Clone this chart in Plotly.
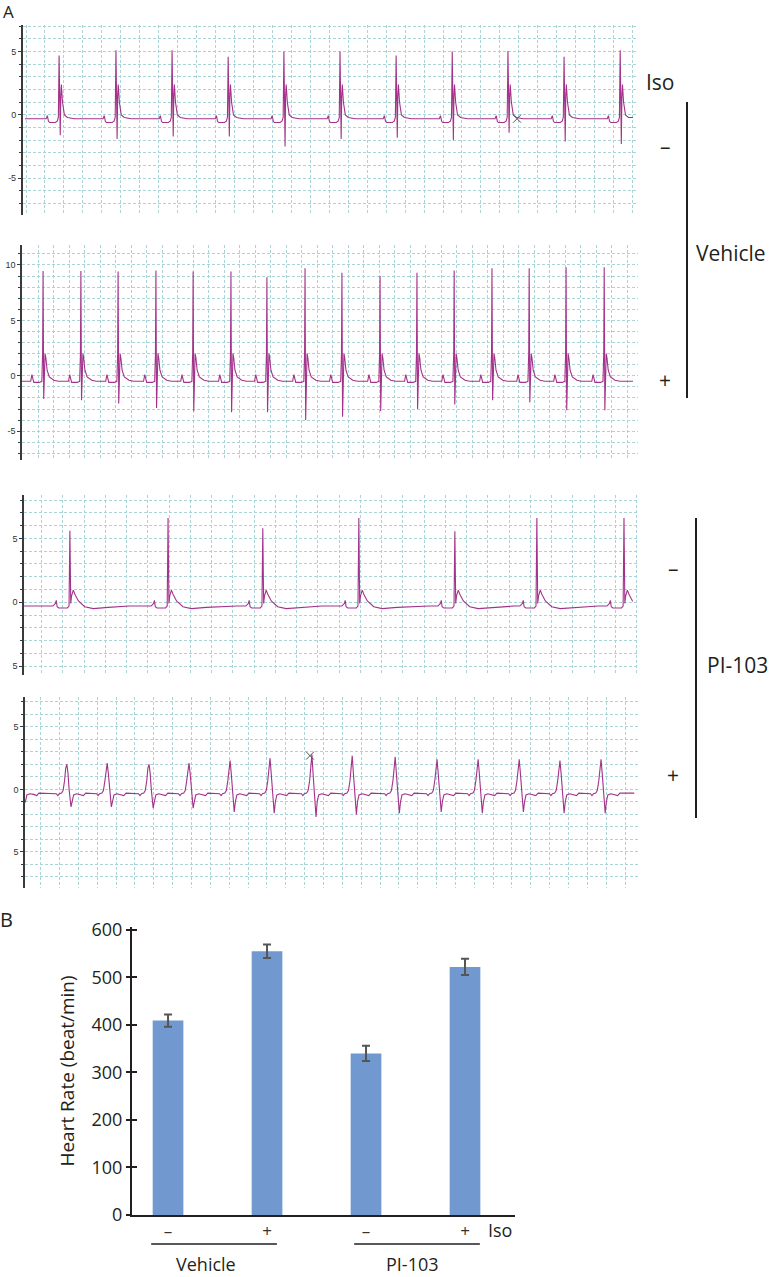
import plotly.graph_objects as go

# ---------------- Data ----------------
# ECG panels: beat times (ms), R-peak and S-trough amplitudes (mV)
veh_minus_beats = [96, 246, 394, 542, 689, 837, 985, 1133, 1280, 1428, 1576]
veh_minus_R = [4.7, 5.1, 5.1, 4.6, 5.0, 5.0, 4.7, 5.0, 5.05, 4.6, 5.1]
veh_minus_S = [-1.6, -1.9, -1.7, -1.7, -2.5, -1.9, -1.8, -2.0, -1.4, -2.1, -2.3]

veh_plus_beats = [68, 190, 310, 432, 552, 674, 790, 913, 1032, 1155, 1274, 1394, 1516, 1636, 1755, 1878]
veh_plus_R = [9.45, 9.45, 9.4, 9.5, 9.4, 9.4, 8.9, 9.7, 9.3, 9.0, 9.3, 9.5, 9.7, 9.7, 9.8, 9.8]
veh_plus_S = [-2.1, -2.2, -2.5, -2.9, -3.2, -3.3, -3.3, -4.0, -3.7, -3.2, -3.0, -2.6, -2.2, -2.4, -3.1, -3.1]

pi_minus_beats = [108, 339, 562, 788, 1014, 1207, 1412]
pi_minus_R = [5.6, 6.6, 5.8, 6.6, 5.55, 6.6, 6.6]
pi_minus_S = [-0.3, -0.3, -0.3, -0.3, -0.3, -0.3, -0.3]

pi_plus_beats = [-13, 111, 218, 329, 435, 544, 650, 761, 868, 982, 1093, 1202, 1311, 1419, 1528]
pi_plus_R = [2.2, 2.0, 2.1, 2.0, 2.1, 2.3, 2.5, 2.8, 2.7, 2.6, 2.4, 2.4, 2.4, 2.3, 2.4]
pi_plus_S = [-1.8, -1.4, -1.4, -1.5, -1.5, -1.8, -1.9, -2.2, -2.0, -1.9, -1.8, -1.9, -1.8, -1.9, -1.9]

# Beat waveform shapes (ms offset from R peak, mV level; "R"/"S" = beat amplitude)
tmpl1_t = [-45, -34, -31, -28, -25, -10, -5, -2, 0, 1.5, 3, 4.5, 6, 9, 14, 22, 40]
tmpl1_v = [-0.3, -0.3, -0.05, -0.5, -0.6, -0.6, -0.5, -0.2, "R", 0.3, "S", 1.5, 2.4, 1.0, 0.0, -0.2, -0.3]
tmpl2_t = [-50, -40, -36, -33, -30, -12, -4, -1.5, 0, 2, 4, 6.5, 9, 13, 20, 35, 50]
tmpl2_v = [-0.5, -0.5, 0.1, -0.3, -0.6, -0.6, -0.5, 2.0, "R", "S", 1.0, 2.0, 1.6, 0.5, -0.1, -0.4, -0.5]
tmpl3_t = [-60, -40, -34, -32, -30, -26, -6, -2, 0, 2, 4, 8, 12, 20, 35, 55, 90, 140]
tmpl3_v = [-0.3, -0.3, -0.1, 0.15, -0.35, -0.45, -0.45, -0.3, "R", -0.1, 0.5, 0.95, 0.6, 0.1, -0.35, -0.5, -0.4, -0.3]
tmpl4_t = [-40, -28, -24, -20, -14, -10, -6, -3, 0, 3, 6, 9, 11, 14, 18, 26, 36, 44, 50, 60]
tmpl4_v = [-0.3, -0.35, -0.5, -0.35, -0.3, -0.1, 0.7, 1.7, "R", 1.3, 0.0, -0.9, "S", -1.0, -0.45, -0.35, -0.4, -0.5, -0.3, -0.3]

# Markers (ms, mV, panel)
marks = [(1304, -0.3, 1), (756, 2.7, 4)]

# Bar chart
groups = ["Vehicle", "Vehicle", "PI-103", "PI-103"]
iso_labels = ["–", "+", "–", "+"]
heart_rate = [409, 555, 340, 522]
heart_err = [13, 14, 16, 17]

# ---------------- Build ----------------
ECG_COL = "#a3338a"
GRID = "#a9d4d8"
INK = "#231f20"
FONT = "Open Sans"


def build(beats, R, S, tt, tv, t0, t1):
    xs, ys = [], []
    for b, r, s in zip(beats, R, S):
        for dt, v in zip(tt, tv):
            t = b + dt
            if t < t0 or t > t1:
                continue
            xs.append(t)
            ys.append(r if v == "R" else (s if v == "S" else v))
    xs = [t0] + xs + [t1]
    ys = [ys[0]] + ys + [ys[-1]]
    return xs, ys


panels = [
    (veh_minus_beats, veh_minus_R, veh_minus_S, tmpl1_t, tmpl1_v, 6, 1610),
    (veh_plus_beats, veh_plus_R, veh_plus_S, tmpl2_t, tmpl2_v, 0, 1971),
    (pi_minus_beats, pi_minus_R, pi_minus_S, tmpl3_t, tmpl3_v, 0, 1433),
    (pi_plus_beats, pi_plus_R, pi_plus_S, tmpl4_t, tmpl4_v, 0, 1616),
]

fig = go.Figure()
for i, p in enumerate(panels, start=1):
    xs, ys = build(*p)
    fig.add_trace(go.Scatter(x=xs, y=ys, mode="lines", line=dict(color=ECG_COL, width=1.1),
                             xaxis=f"x{i}" if i > 1 else "x", yaxis=f"y{i}" if i > 1 else "y",
                             hoverinfo="skip"))

for mx, my, pi in marks:
    fig.add_trace(go.Scatter(x=[mx], y=[my], mode="markers",
                             marker=dict(symbol="x-thin-open", size=8, color="#555555",
                                         line=dict(color="#555555", width=1)),
                             xaxis=f"x{pi}" if pi > 1 else "x", yaxis=f"y{pi}" if pi > 1 else "y"))

fig.add_trace(go.Bar(x=[0, 1, 2, 3], y=heart_rate, width=0.31, marker=dict(color="#7299cf", line=dict(width=0)),
                     error_y=dict(type="data", array=heart_err, color="#555555", thickness=2, width=4),
                     xaxis="x5", yaxis="y5"))

H = 1277.0
W = 772.0


def py(p):
    return 1 - p / H


def px(p):
    return p / W


ecg_specs = [
    # x-left px, y-top px, y-bottom px, y-range, tickvals, ticktext, x-range, tick0
    (22.7, 25, 215, [-7.9, 7.1], [5, 0, -5], ["5", "0", "-5"], [0, 1623], 8.7),
    (22.0, 245, 460, [-7.6, 11.8], [10, 5, 0, -5], ["10", "5", "0", "-5"], [0, 1987], 2.6),
    (24.0, 495, 675, [-5.7, 8.4], [5, 0, -5], ["5", "0", "5"], [0, 1445], -8.4),
    (25.0, 697, 888, [-7.9, 7.4], [5, 0, -5], ["5", "0", "5"], [0, 1626], -8.3),
]

layout = dict(width=772, height=1277, margin=dict(l=0, r=0, t=0, b=0),
              paper_bgcolor="white", plot_bgcolor="white", showlegend=False,
              font=dict(family=FONT, color=INK))

for i, (xl, yt, yb, yr, tv, tt, xr, t0) in enumerate(ecg_specs, start=1):
    sx = "" if i == 1 else str(i)
    layout[f"xaxis{sx}"] = dict(domain=[px(xl), px(638)], range=xr, anchor=f"y{sx}",
                                showgrid=True, gridcolor=GRID, griddash="3px,2px", gridwidth=1,
                                dtick=50, tick0=t0, showticklabels=False, ticks="",
                                zeroline=False, showline=False, fixedrange=True)
    layout[f"yaxis{sx}"] = dict(domain=[py(yb), py(yt)], range=yr, anchor=f"x{sx}",
                                tickmode="array", tickvals=tv, ticktext=tt,
                                showline=True, linecolor="#3a3a3a", linewidth=1.5,
                                ticks="outside", ticklen=3, tickcolor="#3a3a3a",
                                showgrid=True, gridcolor=GRID, griddash="3px,2px", gridwidth=1,
                                minor=dict(dtick=1, tick0=0, ticks="outside", ticklen=2, tickcolor="#3a3a3a",
                                           showgrid=True, gridcolor=GRID, griddash="3px,2px", gridwidth=1),
                                zeroline=False, fixedrange=True, automargin=False,
                                tickfont=dict(size=9, color="#333", family="Liberation Sans"))

# Bar chart axes
layout["xaxis5"] = dict(domain=[px(132), px(515)], range=[-0.364, 3.505], anchor="y5",
                        tickmode="array", tickvals=[0, 1, 2, 3], ticktext=iso_labels,
                        tickfont=dict(size=17, color="#333", family=FONT),
                        showline=True, linecolor=INK, linewidth=2, ticks="", showgrid=False,
                        zeroline=False, fixedrange=True, automargin=False)
layout["yaxis5"] = dict(domain=[py(1215), py(927)], range=[0, 606], anchor="x5",
                        tickmode="array", tickvals=[0, 100, 200, 300, 400, 500, 600],
                        showline=True, linecolor=INK, linewidth=2, ticks="outside", ticklen=4,
                        tickwidth=1.5, tickcolor=INK, showgrid=False, zeroline=False,
                        tickfont=dict(size=18, color=INK, family=FONT), automargin=False,
                        title=dict(text="Heart Rate (beat/min)", font=dict(size=19, color=INK, family=FONT), standoff=12),
                        fixedrange=True)
layout["yaxis6"] = dict(domain=[py(1215), py(927)], range=[0, 606], anchor="x5", overlaying="y5",
                        tickmode="array", tickvals=[0, 100, 200, 300, 400, 500, 600],
                        ticks="inside", ticklen=5, tickwidth=1.5, tickcolor=INK, automargin=False,
                        showticklabels=False, showline=False, showgrid=False, zeroline=False, fixedrange=True)

fig.update_layout(**layout)
# invisible trace so yaxis6 is rendered
fig.add_trace(go.Scatter(x=[0], y=[0], mode="markers", marker=dict(opacity=0), xaxis="x5", yaxis="y6",
                         hoverinfo="skip"))

ann = []


def txt(t, x, y, size, xanchor="center", yanchor="middle", xref="paper", yref="paper"):
    ann.append(dict(text=t, x=x, y=y, xref=xref, yref=yref, showarrow=False, xanchor=xanchor, yanchor=yanchor,
                    borderpad=0, font=dict(size=size, color=INK, family=FONT)))


txt("A", px(8), py(12), 17)
txt("B", px(7), py(919), 20)
txt("Iso", px(660), py(82), 21)
txt("–", px(665), py(146), 21)
txt("+", px(665), py(380), 21)
txt("Vehicle", px(695), py(253), 21, xanchor="left")
txt("–", px(673), py(568), 21)
txt("+", px(673), py(775), 21)
txt("PI-103", px(706), py(665), 21, xanchor="left")
txt("Iso", px(487), py(1230), 18, xanchor="left")
txt(groups[0], 0.38, py(1264), 18, xref="x5")
txt(groups[2], 2.47, py(1264), 18, xref="x5")

shapes = [
    dict(type="line", xref="paper", yref="paper", x0=px(687), x1=px(687), y0=py(102), y1=py(398),
         line=dict(color=INK, width=2)),
    dict(type="line", xref="paper", yref="paper", x0=px(696), x1=px(696), y0=py(518), y1=py(818),
         line=dict(color=INK, width=2)),
    dict(type="line", xref="x5", yref="paper", x0=-0.17, x1=1.10, y0=py(1244), y1=py(1244),
         line=dict(color=INK, width=1.5)),
    dict(type="line", xref="x5", yref="paper", x0=1.88, x1=3.15, y0=py(1244), y1=py(1244),
         line=dict(color=INK, width=1.5)),
]

fig.update_layout(annotations=ann, shapes=shapes)
fig.write_html("out.html", config={"displayModeBar": False},
               post_script="document.body.style.margin='0px';document.body.style.overflow='hidden';"
                           "document.documentElement.style.overflow='hidden';")
